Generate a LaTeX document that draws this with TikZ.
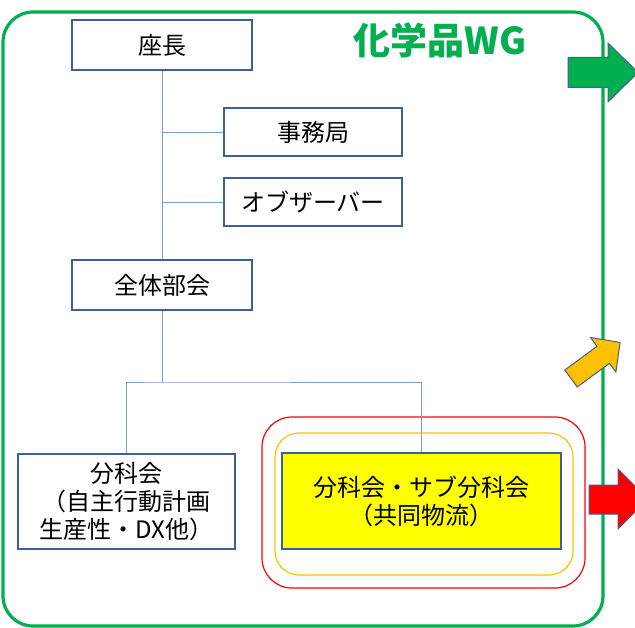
\documentclass[tikz,border=0pt]{standalone}
\usepackage{fontspec}
\newfontfamily\jp{Noto Sans CJK JP}
\definecolor{boxline}{HTML}{3F5F9A}
\definecolor{conn}{HTML}{7E9CD6}
\definecolor{wggreen}{HTML}{00B050}
\definecolor{wgorange}{HTML}{FFC000}
\definecolor{wgred}{HTML}{FF0000}
\definecolor{wgyellow}{HTML}{FFFF00}
\definecolor{arrline}{HTML}{4A5C8C}
\tikzset{
  orgbox/.style={draw=boxline, line width=1.4pt, fill=white, inner sep=0pt, align=center,
    font=\jp\fontsize{24}{28}\selectfont, text=black},
  link/.style={draw=conn, line width=0.9pt},
  bigarrow/.style={draw=arrline, line width=1pt, line join=miter},
}
\begin{document}
\begin{tikzpicture}[x=1pt,y=-1pt]
\useasboundingbox (0,0) rectangle (635,628);
\clip (0,0) rectangle (635,628);
% outer WG frame
\draw[wggreen, line width=3.2pt, rounded corners=30pt] (3,12) rectangle (603,626);
\node[font=\jp\bfseries\fontsize{37}{42}\selectfont, text=wggreen, inner sep=0pt] (title) at (440,40) {化学品WG};
% red and orange frames
\draw[wgred, line width=1.2pt, rounded corners=30pt] (262,417) rectangle (585,588);
\draw[wgorange, line width=1.2pt, rounded corners=24pt] (275,433) rectangle (573,575);
% boxes
\node[orgbox, minimum width=180pt, minimum height=50pt] (zacho) at (162,45) {座長};
\node[orgbox, minimum width=178pt, minimum height=48pt] (jimu) at (313,132) {事務局};
\node[orgbox, minimum width=178pt, minimum height=48pt] (obs) at (313,202) {オブザーバー};
\node[orgbox, minimum width=180pt, minimum height=50pt] (zentai) at (162,285) {全体部会};
\node[orgbox, minimum width=217pt, minimum height=95pt] (bunka) at (126.5,501.5) {分科会\\（自主行動計画\\生産性・DX他）};
\node[orgbox, fill=wgyellow, minimum width=279pt, minimum height=96pt] (kyodo) at (421.5,501) {分科会・サブ分科会\\（共同物流）};
% connectors
\coordinate (jn) at (162,382);
\draw[link] (zacho.south) -- (zentai.north);
\draw[link] (jimu.west) -- (jimu.west -| zacho.south);
\draw[link] (obs.west) -- (obs.west -| zacho.south);
\draw[link] (zentai.south) -- (jn);
\draw[link] (bunka.north) |- (jn) -| (kyodo.north);
% arrows
\draw[bigarrow, fill=wggreen] (568,57.5) -- (608,57.5) -- (608,43) -- (638,72.5) -- (608,102) -- (608,87.5) -- (568,87.5) -- cycle;
\draw[bigarrow, fill=wgorange] (564.8,370) -- (597,346.3) -- (590.5,337.5) -- (620.1,342.4) -- (615.9,372.1) -- (609.4,363.3) -- (577.2,387) -- cycle;
\draw[bigarrow, fill=wgred] (589,485) -- (618,485) -- (618,469) -- (648,499) -- (618,529) -- (618,514) -- (589,514) -- cycle;
\end{tikzpicture}
\end{document}
